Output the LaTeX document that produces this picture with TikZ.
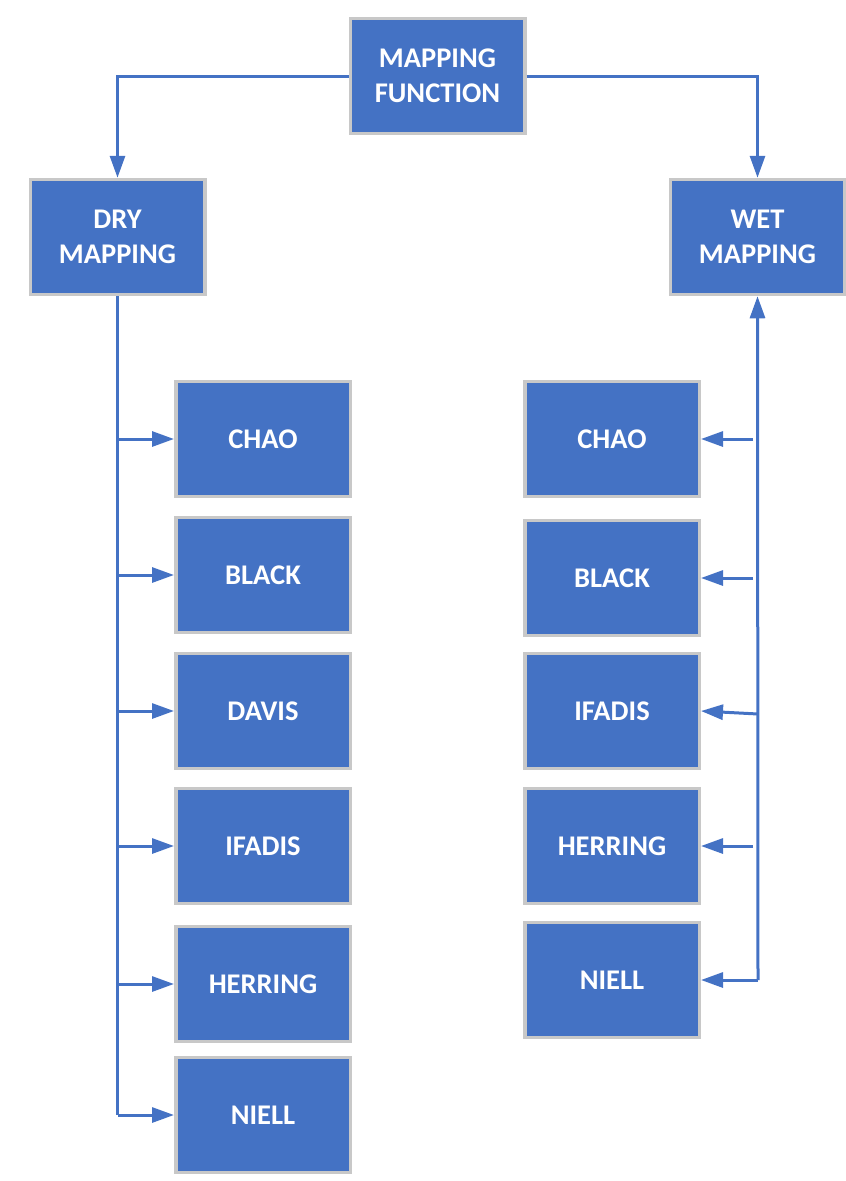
\documentclass[tikz,border=0pt]{standalone}
\usepackage{fontspec}
\setmainfont{Carlito}
\usetikzlibrary{arrows.meta}
\definecolor{boxblue}{HTML}{4472C4}
\definecolor{boxgray}{HTML}{C8C8C8}
\tikzset{
  box/.style={draw=boxgray, line width=3.5pt, fill=boxblue, text=white,
    minimum width=174.5pt, minimum height=115pt, inner sep=0pt, align=center,
    font=\fontsize{28.5}{35}\selectfont\bfseries},
  conn/.style={draw=boxblue, line width=3pt},
  arr/.style={conn, -{Triangle[length=22pt,width=15pt]}}
}
\begin{document}
\begin{tikzpicture}[x=1pt,y=-1pt]
\useasboundingbox (0,0) rectangle (846,1181);
% top
\node[box] (mf) at (437.5,76) {MAPPING\\FUNCTION};
\node[box] (dry) at (117.5,237) {DRY\\MAPPING};
\node[box] (wet) at (757.5,237) {WET\\MAPPING};
% left column
\node[box] (lchao) at (263,439) {CHAO};
\node[box] (lblack) at (263,575) {BLACK};
\node[box] (ldavis) at (263,711) {DAVIS};
\node[box] (lifadis) at (263,846) {IFADIS};
\node[box] (lherring) at (263,984) {HERRING};
\node[box] (lniell) at (263,1115) {NIELL};
% right column
\node[box] (rchao) at (612,439) {CHAO};
\node[box] (rblack) at (612,578) {BLACK};
\node[box] (rifadis) at (612,711) {IFADIS};
\node[box] (rherring) at (612,846) {HERRING};
\node[box] (rniell) at (612,980) {NIELL};
% coordinates
\coordinate (lx) at (118,0);
\coordinate (rx) at (758,0);
% top connectors
\draw[arr] (mf.west) -| (dry.north);
\draw[arr] (mf.east) -| (wet.north);
% left trunk
\draw[conn] (dry.south) -- (dry.south |- lniell.west);
\foreach \n in {lchao,lblack,ldavis,lifadis,lherring}
  \draw[arr] (lx |- \n.west) -- (\n.west);
\draw[arr] (dry.south |- lniell.west) -- (lniell.west);
% right trunk
\draw[arr] (rx |- rniell.east) -- (wet.south);
\draw[arr] (rx |- rniell.east) -- (rniell.east);
\foreach \n in {rchao,rblack,rherring}
  \draw[arr] ([xshift=-5pt]rx |- \n.east) -- (\n.east);
\coordinate (rif) at (758,714);
\draw[arr] (rif) -- (rifadis.east);
\end{tikzpicture}
\end{document}
